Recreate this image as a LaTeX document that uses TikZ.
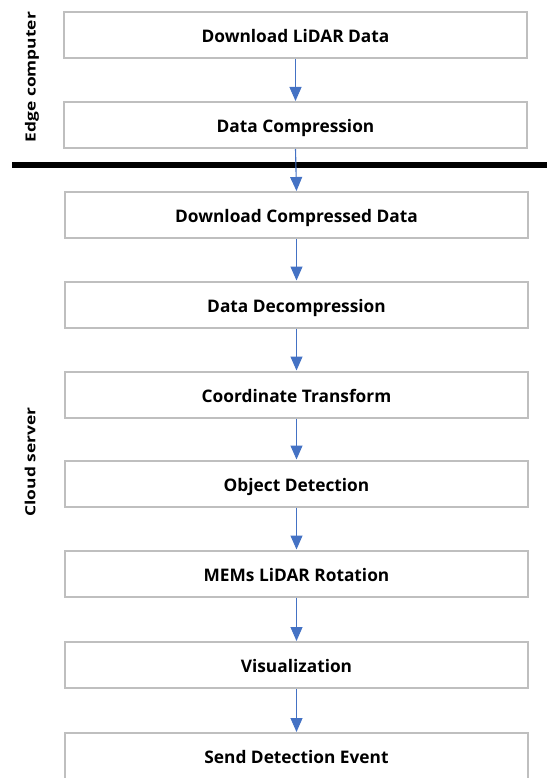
\documentclass[tikz,border=0pt]{standalone}
\usepackage{fontspec}
\setmainfont{Open Sans}
\usetikzlibrary{arrows.meta}
\definecolor{boxgray}{RGB}{191,191,191}
\definecolor{flowblue}{RGB}{68,114,196}
\newcommand{\widetext}[1]{\scalebox{1.24}[1]{#1}}
\begin{document}
\begin{tikzpicture}[x=1pt,y=-1pt,
  stepbox/.style={draw=boxgray, line width=2pt, fill=white,
    minimum width=463pt, minimum height=46pt, inner sep=0pt,
    text height=15pt, text depth=0pt,
    font=\fontsize{17.3}{20}\selectfont\bfseries},
  flow/.style={draw=flowblue, line width=1.1pt,
    -{Triangle[length=14pt,width=12pt]}, flowblue},
  sidelabel/.style={rotate=90, inner sep=0pt,
    font=\fontsize{14}{17}\selectfont\bfseries}]
\useasboundingbox (0,0) rectangle (547,778);

% process steps
\node[stepbox] (s1) at (295.5,35)  {Download LiDAR Data};
\node[stepbox] (s2) at (295.5,125) {Data Compression};
\node[stepbox] (s3) at (296.5,215) {Download Compressed Data};
\node[stepbox] (s4) at (296.5,304.5) {Data Decompression};
\node[stepbox] (s5) at (296.5,394.5) {Coordinate Transform};
\node[stepbox] (s6) at (296.5,483.5) {Object Detection};
\node[stepbox] (s7) at (296.5,573.5) {MEMs LiDAR Rotation};
\node[stepbox] (s8) at (296.5,665) {Visualization};
\node[stepbox] (s9) at (296.5,756) {Send Detection Event};

% boundary between edge and cloud
\coordinate (bl) at (12,165);
\coordinate (br) at (547,165);
\draw[line width=6.5pt] (bl) -- (br);

% side labels
\node[sidelabel] (edge) at (32,77) {\widetext{Edge computer}};
\node[sidelabel] (cloud) at (30,462) {\widetext{Cloud server}};

% connectors
\foreach \a/\b in {s1/s2,s2/s3,s3/s4,s4/s5,s5/s6,s6/s7,s7/s8,s8/s9}
  \draw[flow] (\a.south) -- (\b.north);
\end{tikzpicture}
\end{document}
